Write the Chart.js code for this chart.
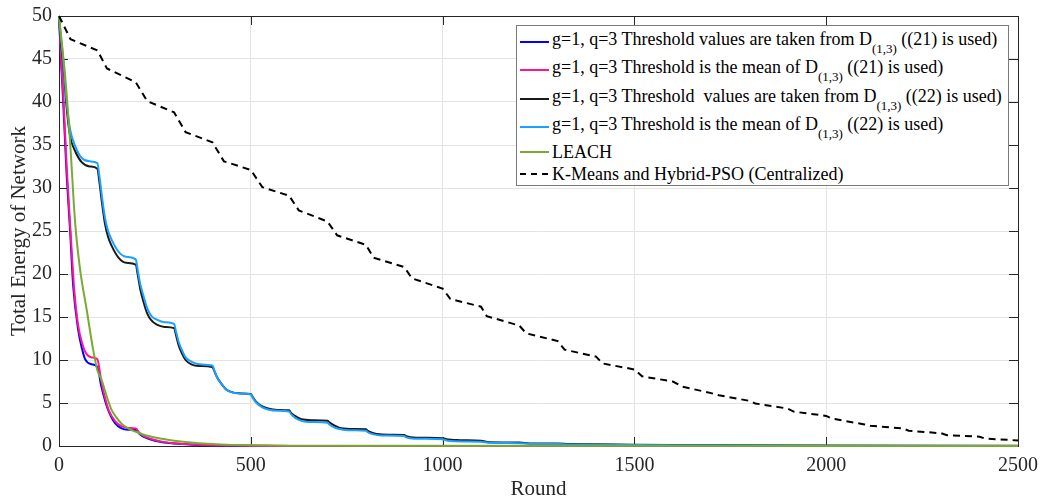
<!DOCTYPE html>
<html>
<head>
<meta charset="utf-8">
<script src="https://cdn.jsdelivr.net/npm/chart.js@4.4.0/dist/chart.umd.min.js"></script>
<style>
  html, body { margin: 0; padding: 0; background: #fff; }
  #wrap { position: relative; width: 1042px; height: 502px; }
  #legend {
    position: absolute; left: 516px; top: 25px; width: 491px; height: 159px;
    border: 1px solid #7a7a7a; background: #fff;
    font-family: 'Liberation Serif', 'DejaVu Serif', serif; font-size: 18px; color: #000;
  }
  .row { position: absolute; left: 0; height: 24px; line-height: 24px; white-space: pre; }
  .swatch { position: absolute; left: 3px; top: 11px; width: 29px; height: 2px; }
  .txt { position: absolute; left: 35px; top: 0; }
  .txt.hasSub { top: -3px; }
  .sub { position: relative; top: 8px; font-size: 13px; }
</style>
</head>
<body>
<div id="wrap">
  <canvas id="energyChart" width="1042" height="502"></canvas>
  <div id="legend"></div>
</div>
<script>
(function () {
    // --- data (round, total energy) ---
    var BLUE_X = [0, 5, 11, 20, 29, 37, 50, 60, 68, 85, 100, 110, 120, 128, 146, 163, 180, 200, 210, 224, 250, 275, 300, 350, 400, 450, 500, 600, 2500];
    var BLUE_Y = [50, 45, 40, 31.5, 25, 18.6, 13.5, 11.3, 10.1, 9.5, 9.2, 7.0, 5.3, 4.2, 2.65, 2.06, 1.9, 1.85, 1.4, 1.0, 0.6, 0.4, 0.28, 0.15, 0.08, 0.04, 0.02, 0.01, 0];

    var PINK_X = [0, 5, 11, 20, 30, 40, 50, 60, 70, 85, 100, 110, 120, 130, 146, 163, 180, 200, 210, 224, 250, 275, 300, 350, 400, 450, 500, 600, 2500];
    var PINK_Y = [50, 45.5, 41, 32.5, 25, 18, 14, 12, 10.8, 10.3, 10.1, 7.6, 5.6, 4.1, 2.9, 2.3, 2.1, 2.05, 1.5, 1.1, 0.7, 0.45, 0.32, 0.17, 0.09, 0.05, 0.02, 0.01, 0];

    var BLACK_X = [0, 5, 11, 20, 29, 42, 59, 80, 100, 105, 112, 120, 128, 137, 155, 175, 200, 205, 212, 220, 230, 241, 255, 275, 300,
        305, 312, 320, 330, 345, 365, 400, 405, 412, 424, 435, 445, 470, 500, 505, 515, 530, 545, 570, 600,
        605, 615, 632, 660, 700, 705, 720, 736, 770, 800, 805, 820, 836, 870, 900, 905, 931, 1000,
        1010, 1044, 1100, 1122, 1200, 1227, 1300, 1330, 1400, 1500, 1600, 1800, 2000, 2500];
    var BLACK_Y = [50, 47, 44.5, 39.3, 36, 34.3, 33, 32.5, 32.25, 30.8, 28.3, 25.8, 24.3, 23.3, 21.9, 21.3, 21.1, 20, 18.2, 16.8, 15.4, 14.6, 14.1, 13.85, 13.7,
        12.9, 11.7, 10.8, 10.0, 9.5, 9.3, 9.17, 8.7, 8.0, 7.2, 6.6, 6.35, 6.12, 6.05, 5.7, 5.1, 4.6, 4.35, 4.2, 4.15,
        3.85, 3.5, 3.1, 3.0, 2.95, 2.75, 2.35, 2.06, 1.97, 1.94, 1.75, 1.5, 1.36, 1.3, 1.28, 1.15, 0.97, 0.9,
        0.78, 0.68, 0.62, 0.43, 0.4, 0.3, 0.28, 0.22, 0.2, 0.15, 0.12, 0.08, 0.05, 0.02];

    var CYAN_X = [0, 5, 11, 20, 29, 42, 59, 80, 100, 105, 112, 120, 128, 137, 155, 175, 200, 205, 212, 220, 230, 241, 255, 275, 300,
        305, 312, 320, 330, 345, 365, 400, 405, 412, 424, 435, 445, 470, 500, 505, 515, 530, 545, 570, 600,
        605, 615, 630, 650, 700, 705, 720, 740, 770, 800, 805, 820, 840, 900, 905, 930, 1000,
        1010, 1030, 1100, 1120, 1200, 1230, 1300, 1330, 1400, 1500, 1600, 1800, 2000, 2500];
    var CYAN_Y = [50, 47.5, 45, 40, 36.8, 34.9, 33.5, 33.1, 32.9, 31.5, 29, 26.5, 25, 24, 22.6, 22, 21.7, 20.5, 18.8, 17.5, 16, 15.1, 14.7, 14.4, 14.2,
        13.3, 12.1, 11.2, 10.3, 9.8, 9.5, 9.36, 8.8, 8.0, 7.2, 6.6, 6.33, 6.1, 6.0, 5.6, 5.0, 4.5, 4.25, 4.1, 4.0,
        3.7, 3.3, 2.95, 2.8, 2.7, 2.5, 2.1, 1.9, 1.82, 1.78, 1.6, 1.35, 1.22, 1.15, 1.0, 0.85, 0.78,
        0.65, 0.55, 0.5, 0.38, 0.33, 0.25, 0.22, 0.17, 0.15, 0.11, 0.08, 0.05, 0.03, 0.01];

    var GREEN_X = [0, 16, 29, 42, 55, 72, 89, 100, 111, 125, 137, 150, 163, 180, 198, 225, 250, 276, 300, 350, 400, 450, 500, 600, 700, 2500];
    var GREEN_Y = [50, 43, 35.3, 26, 20.5, 15.9, 11.2, 8.8, 7.7, 5.7, 4.2, 3.3, 2.6, 2.05, 1.7, 1.25, 1.0, 0.78, 0.62, 0.38, 0.22, 0.13, 0.08, 0.04, 0.02, 0];

    var KMEANS_X = [0, 30, 100, 125, 200, 230, 300, 330, 400, 430, 500, 530, 600, 625, 700, 725, 800, 820, 900, 920, 1000, 1020,
        1100, 1115, 1200, 1218, 1300, 1318, 1400, 1417, 1500, 1520, 1600, 1625, 1700, 1720, 1800, 1815, 1900, 1915,
        2000, 2015, 2100, 2115, 2200, 2215, 2300, 2315, 2400, 2415, 2500];
    var KMEANS_Y = [50, 47.3, 46.0, 43.9, 42.3, 40.1, 38.8, 36.5, 35.3, 33.1, 32.1, 30.1, 29.1, 27.4, 26.1, 24.5, 23.4, 21.9, 20.8, 19.5, 18.3, 17.1,
        16.2, 15.1, 14.0, 13.1, 12.2, 11.2, 10.4, 9.6, 8.9, 8.1, 7.5, 6.9, 6.15, 5.9, 5.25, 4.95, 4.35, 4.0,
        3.5, 3.2, 2.5, 2.35, 2.05, 1.78, 1.48, 1.25, 1.08, 0.85, 0.65];

    var LABEL_MAIN = [
        'g=1, q=3 Threshold values are taken from D',
        'g=1, q=3 Threshold is the mean of D',
        'g=1, q=3 Threshold  values are taken from D',
        'g=1, q=3 Threshold is the mean of D',
        'LEACH',
        'K-Means and Hybrid-PSO (Centralized)'
    ];
    var LABEL_SUB = ['(1,3)', '(1,3)', '(1,3)', '(1,3)', '', ''];
    var LABEL_TAIL = [' ((21) is used)', ' ((21) is used)', ' ((22) is used)', ' ((22) is used)', '', ''];

    var X_TICKS = [0, 500, 1000, 1500, 2000, 2500];
    var Y_TICKS = [0, 5, 10, 15, 20, 25, 30, 35, 40, 45, 50];

    var SERIES_X = [BLUE_X, PINK_X, BLACK_X, CYAN_X, GREEN_X, KMEANS_X];
    var SERIES_Y = [BLUE_Y, PINK_Y, BLACK_Y, CYAN_Y, GREEN_Y, KMEANS_Y];
    var COLORS = ['#0000ff', '#ff1493', '#1a1a1a', '#1aa0ff', '#77ac30', '#000000'];
    var DASHES = [[], [], [], [], [], [7, 5]];

    var SERIF = "'Liberation Serif', 'DejaVu Serif', serif";
    var AXIS_COLOR = '#262626';
    Chart.defaults.font.family = SERIF;

    var datasets = SERIES_X.map(function (xs, i) {
        return {
            label: LABEL_MAIN[i] + LABEL_SUB[i] + LABEL_TAIL[i],
            data: xs.map(function (x, j) { return { x: x, y: SERIES_Y[i][j] }; }),
            borderColor: COLORS[i],
            backgroundColor: COLORS[i],
            borderWidth: 2,
            borderDash: DASHES[i],
            pointRadius: 0,
            cubicInterpolationMode: DASHES[i].length ? 'default' : 'monotone',
            tension: 0,
            fill: false,
            clip: false,
            order: SERIES_X.length - i
        };
    });

    // box round the plot and MATLAB-style inward ticks
    var boxPlugin = {
        id: 'box',
        beforeDatasetsDraw: function (chart) {
            var a = chart.chartArea, c = chart.ctx;
            var xs = chart.scales.x, ys = chart.scales.y;
            c.save();
            c.strokeStyle = AXIS_COLOR;
            c.lineWidth = 1;
            c.strokeRect(Math.round(a.left) + 0.5, Math.round(a.top) + 0.5,
                Math.round(a.right - a.left), Math.round(a.bottom - a.top));
            c.beginPath();
            X_TICKS.forEach(function (v) {
                var px = Math.round(xs.getPixelForValue(v)) + 0.5;
                c.moveTo(px, a.bottom); c.lineTo(px, a.bottom - 9);
                c.moveTo(px, a.top); c.lineTo(px, a.top + 9);
            });
            Y_TICKS.forEach(function (v) {
                var py = Math.round(ys.getPixelForValue(v)) + 0.5;
                c.moveTo(a.left, py); c.lineTo(a.left + 9, py);
                c.moveTo(a.right, py); c.lineTo(a.right - 9, py);
            });
            c.stroke();
            c.restore();
        }
    };

    function plain(v) { return String(v); }

    new Chart(document.getElementById('energyChart'), {
        type: 'line',
        data: { datasets: datasets },
        options: {
            responsive: false,
            animation: false,
            events: [],
            layout: { padding: { top: 16, right: 24, left: 0, bottom: 0 } },
            plugins: { legend: { display: false }, tooltip: { enabled: false } },
            scales: {
                x: {
                    type: 'linear',
                    min: 0,
                    max: 2500,
                    afterBuildTicks: function (s) { s.ticks = X_TICKS.map(function (v) { return { value: v }; }); },
                    afterFit: function (s) { s.height = 56; s.paddingLeft = 0; s.paddingRight = 0; },
                    ticks: { color: AXIS_COLOR, padding: 8, maxRotation: 0, callback: plain, font: { family: SERIF, size: 20 } },
                    grid: { color: '#e3e3e3', lineWidth: 1, drawTicks: false },
                    border: { display: false },
                    title: { display: true, text: 'Round', color: AXIS_COLOR, padding: { top: 0, bottom: 0 }, font: { family: SERIF, size: 21 } }
                },
                y: {
                    min: 0,
                    max: 50,
                    afterBuildTicks: function (s) { s.ticks = Y_TICKS.map(function (v) { return { value: v }; }); },
                    afterFit: function (s) { s.width = 59; s.paddingTop = 0; s.paddingBottom = 0; },
                    ticks: { color: AXIS_COLOR, padding: 7, callback: plain, font: { family: SERIF, size: 20 } },
                    grid: { color: '#e3e3e3', lineWidth: 1, drawTicks: false },
                    border: { display: false },
                    title: { display: true, text: 'Total Energy of Network', color: AXIS_COLOR, padding: { top: 7, bottom: 0 }, font: { family: SERIF, size: 21 } }
                }
            }
        },
        plugins: [boxPlugin]
    });

    // --- legend with subscripts ---
    var ROW_TOPS = [4, 32, 61, 89, 114, 136];
    var legend = document.getElementById('legend');
    var html = '';
    LABEL_MAIN.forEach(function (name, i) {
        var sw = DASHES[i].length
            ? 'background: repeating-linear-gradient(to right, ' + COLORS[i] + ' 0 6px, transparent 6px 11px);'
            : 'background:' + COLORS[i] + ';';
        html += '<div class="row" style="top:' + ROW_TOPS[i] + 'px">';
        html += '<div class="swatch" style="' + sw + '"></div>';
        html += '<span class="txt' + (LABEL_SUB[i] ? ' hasSub' : '') + '">' + name;
        if (LABEL_SUB[i]) html += '<span class="sub">' + LABEL_SUB[i] + '</span>';
        html += LABEL_TAIL[i] + '</span></div>';
    });
    legend.innerHTML = html;
})();
</script>
</body>
</html>
